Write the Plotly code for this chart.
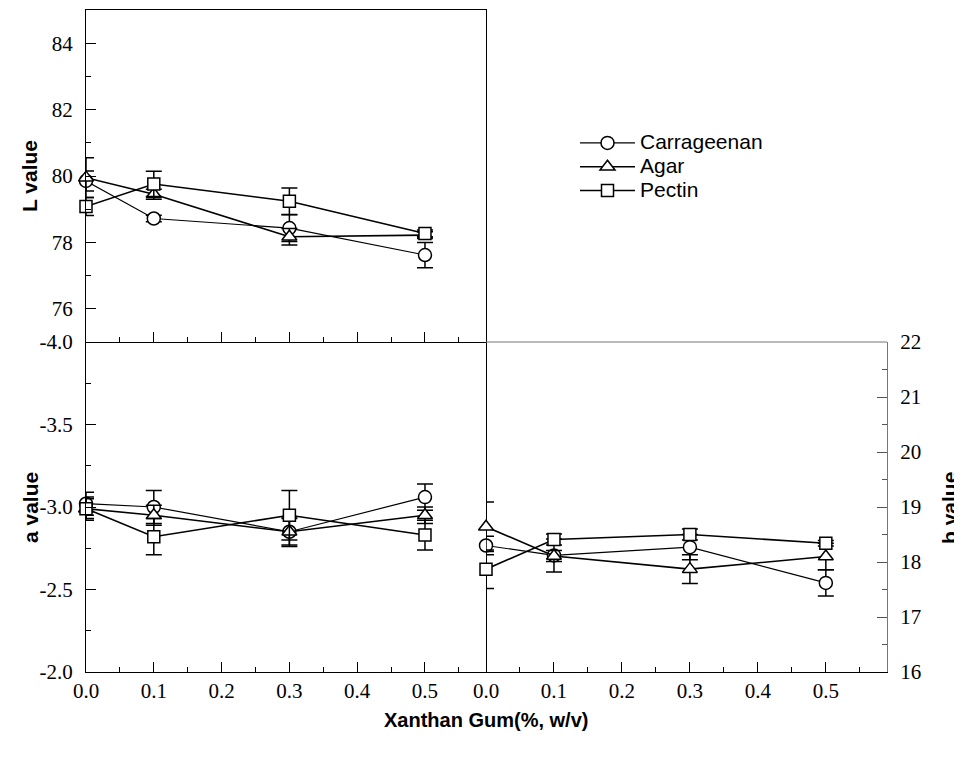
import plotly.graph_objects as go

# ---- data ----
xg = [0.0, 0.1, 0.3, 0.5]
series = ["Carrageenan", "Agar", "Pectin"]

L_carr = [79.85, 78.72, 78.43, 77.62]
L_carr_err = [0.30, 0.10, 0.40, 0.38]
L_agar = [79.95, 79.45, 78.17, 78.22]
L_agar_err = [0.60, 0.15, 0.25, 0.10]
L_pect = [79.08, 79.76, 79.24, 78.27]
L_pect_err = [0.27, 0.38, 0.40, 0.10]

a_carr = [-3.02, -3.00, -2.85, -3.06]
a_carr_err = [0.07, 0.10, 0.09, 0.08]
a_agar = [-2.99, -2.95, -2.85, -2.95]
a_agar_err = [0.06, 0.06, 0.08, 0.05]
a_pect = [-2.99, -2.82, -2.95, -2.83]
a_pect_err = [0.07, 0.11, 0.15, 0.09]

b_carr = [18.30, 18.12, 18.27, 17.62]
b_carr_err = [0.17, 0.30, 0.23, 0.24]
b_agar = [18.64, 18.11, 17.87, 18.10]
b_agar_err = [0.45, 0.10, 0.26, 0.24]
b_pect = [17.87, 18.41, 18.50, 18.34]
b_pect_err = [0.35, 0.10, 0.10, 0.05]

x_ticks = [0.0, 0.1, 0.2, 0.3, 0.4, 0.5]
L_ticks = [76, 78, 80, 82, 84]
a_ticks = [-4.0, -3.5, -3.0, -2.5, -2.0]
b_ticks = [16, 17, 18, 19, 20, 21, 22]

symbols = {"Carrageenan": "circle", "Agar": "triangle-up", "Pectin": "square"}
widths = {"Carrageenan": 1.2, "Agar": 1.6, "Pectin": 1.6}
msize = {"Carrageenan": 13, "Agar": 13, "Pectin": 12}

panels = [
    ("x", "y", [L_carr, L_agar, L_pect], [L_carr_err, L_agar_err, L_pect_err], True),
    ("x2", "y2", [a_carr, a_agar, a_pect], [a_carr_err, a_agar_err, a_pect_err], False),
    ("x3", "y3", [b_carr, b_agar, b_pect], [b_carr_err, b_agar_err, b_pect_err], False),
]

fig = go.Figure()
for xa, ya, vals, errs, show in panels:
    for name, v, e in zip(series, vals, errs):
        fig.add_trace(go.Scatter(
            x=xg, y=v, xaxis=xa, yaxis=ya,
            name=f'<span style="font-size:21px">{name}</span>',
            legendgroup=name, showlegend=show, mode="lines+markers", cliponaxis=False,
            line=dict(color="black", width=widths[name]),
            marker=dict(symbol=symbols[name], size=msize[name], color="white",
                        line=dict(color="black", width=1.5)),
            error_y=dict(type="data", array=e, visible=True, color="black",
                         thickness=1.5, width=8),
        ))

# page body has an 8px margin; positions below are screen pixels
W, H = 954, 742
def fx(p): return (p - 8) / W
def fy(p): return 1 - (p - 8) / H

tickfont = dict(family="Liberation Serif, Times New Roman, Times, serif", size=21, color="black")
base = dict(showline=True, linecolor="black", linewidth=1, ticks="inside",
            ticklen=10, tickwidth=1, tickcolor="black", showgrid=False,
            zeroline=False, tickfont=tickfont, automargin=False)

xd_left = [fx(86), fx(486)]
xd_right = [fx(486), fx(887)]
yd_top = [fy(342), fy(10)]
yd_bot = [fy(672), fy(342)]

xminor = dict(ticks="inside", ticklen=5, tickwidth=1, tickcolor="black",
              tickvals=[0.05, 0.15, 0.25, 0.35, 0.45, 0.55], showgrid=False)

fig.update_layout(
    width=W, height=H, margin=dict(l=0, r=0, t=0, b=0, autoexpand=False),
    paper_bgcolor="white", plot_bgcolor="white", showlegend=True,
    xaxis=dict(base, domain=xd_left, anchor="y", range=[0, 0.59],
               tickvals=x_ticks, showticklabels=False, mirror=True, minor=xminor),
    yaxis=dict(base, domain=yd_top, anchor="x", range=[75, 85],
               tickvals=L_ticks, ticktext=[str(t) for t in L_ticks], mirror=True,
               ticklabelstandoff=8,
               minor=dict(ticks="inside", ticklen=5, tickcolor="black",
                          tickvals=[77, 79, 81, 83], showgrid=False)),
    xaxis2=dict(base, domain=xd_left, anchor="y2", range=[0, 0.59],
                tickvals=x_ticks, ticktext=[f"{t:.1f}" for t in x_ticks],
                ticklabelstandoff=0, minor=xminor),
    yaxis2=dict(base, domain=yd_bot, anchor="x2", range=[-2, -4],
                tickvals=a_ticks, ticktext=[f"{t:.1f}" for t in a_ticks],
                mirror=True, ticklabelstandoff=8,
                minor=dict(ticks="inside", ticklen=5, tickcolor="black",
                           tickvals=[-3.75, -3.25, -2.75, -2.25], showgrid=False)),
    xaxis3=dict(base, domain=xd_right, anchor="y3", range=[0, 0.59],
                tickvals=x_ticks, ticktext=[f"{t:.1f}" for t in x_ticks],
                ticklabelstandoff=0, minor=xminor),
    yaxis3=dict(base, domain=yd_bot, anchor="x3", range=[16, 22], side="right",
                linecolor="#777777", tickcolor="#555555",
                tickvals=b_ticks, ticktext=[str(t) for t in b_ticks],
                ticklabelstandoff=8,
                minor=dict(ticks="inside", ticklen=5, tickcolor="#555555",
                           tickvals=[16.5, 17.5, 18.5, 19.5, 20.5, 21.5], showgrid=False)),
    legend=dict(x=fx(575), y=fy(126), xanchor="left", yanchor="top",
                bgcolor="rgba(0,0,0,0)", borderwidth=0,
                font=dict(family="Liberation Sans", size=16, color="black"),
                tracegroupgap=0, itemwidth=55),
    shapes=[dict(type="line", xref="x3 domain", yref="y3 domain",
                 x0=0, x1=1, y0=1, y1=1, line=dict(color="#777777", width=1))],
)

title_font = dict(family="Liberation Sans", size=21, color="black")
ann = [
    dict(text="<b>L value</b>", x=fx(30), y=fy(176), textangle=-90, size=21),
    dict(text="<b>a value</b>", x=fx(30), y=fy(508), textangle=-90, size=21),
    dict(text="<b>b value</b>", x=fx(949), y=fy(508), textangle=-90, size=21),
    dict(text="<b>Xanthan Gum(%, w/v)</b>", x=fx(486), y=fy(720), textangle=0, size=20),
]
for a in ann:
    sz = a.pop("size")
    fig.add_annotation(xref="paper", yref="paper", showarrow=False,
                       xanchor="center", yanchor="middle",
                       font=dict(title_font, size=sz), **a)

fig.write_html("out.html")
